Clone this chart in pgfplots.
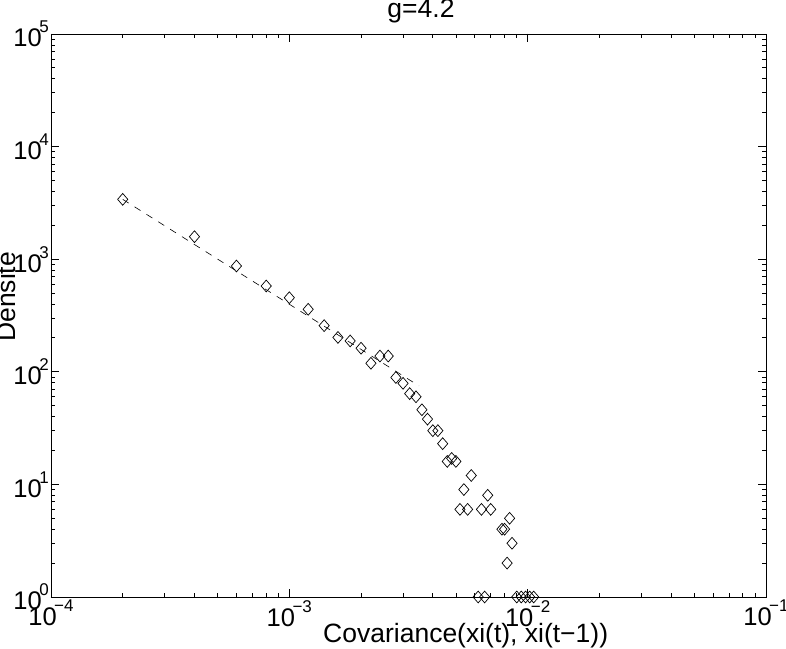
\documentclass[border=0pt]{standalone}
\usepackage{fontspec}
\setmainfont{Liberation Sans}
\usepackage{pgfplots}
\pgfplotsset{compat=1.18}
\newcommand{\tl}[1]{10\kern-2.5bp\raisebox{14bp}{\fontsize{17bp}{17bp}\selectfont #1}}
\begin{document}
\begin{tikzpicture}
\begin{axis}[
  scale only axis, width=715bp, height=563bp,
  xmode=log, ymode=log,
  xmin=1e-4, xmax=1e-1, ymin=1, ymax=1e5,
  clip=false,
  axis line style={line width=0.9bp},
  every tick/.style={black, line width=0.8bp},
  major tick length=8bp, minor tick length=4bp,
  tick align=inside,
  xtick={1e-4,1e-3,1e-2,1e-1},
  ytick={1,10,100,1000,10000,100000},
  xticklabels={\tl{−4},\tl{−3},\tl{−2},\tl{−1}},
  yticklabels={\tl{0},\tl{1},\tl{2},\tl{3},\tl{4},\tl{5}},
  tick label style={font=\fontsize{25.5bp}{28bp}\selectfont},
  xticklabel style={inner sep=0pt, yshift=-3bp},
  yticklabel style={inner sep=0pt, xshift=-2bp},
  label style={font=\fontsize{26.5bp}{30bp}\selectfont},
  title style={font=\fontsize{26.5bp}{30bp}\selectfont, at={(axis description cs:0.5175,1.0195)}, anchor=base, inner sep=0pt},
  title={g=4.2},
  xlabel style={at={(axis description cs:0.58,-0.08)}, anchor=base, inner sep=0pt},
  xlabel={Covariance(xi(t), xi(t−1))},
  ylabel style={at={(axis description cs:-0.0497,0.533)}, anchor=base, inner sep=0pt},
  ylabel={Densite},
]
\addplot[black, line width=0.6bp, dash pattern=on 7bp off 7bp] coordinates {(0.0002,3400) (0.0035,75)};
\addplot[only marks, mark=diamond, mark size=5.9bp, mark options={black, line width=0.7bp, xscale=1.15, fill=none}] coordinates {
(0.0002,3400) (0.0004,1585) (0.0006,870) (0.0008,578) (0.0010,455)
(0.0012,359) (0.0014,257) (0.0016,202) (0.0018,188) (0.0020,162)
(0.0022,119) (0.0024,138) (0.0026,138) (0.0028,89) (0.0030,79)
(0.0032,64) (0.0034,60) (0.0036,46) (0.0038,38) (0.0040,30)
(0.0042,30) (0.0044,23) (0.0046,16) (0.0048,17) (0.0050,16)
(0.0052,6) (0.0054,9) (0.0056,6) (0.0058,12) (0.0062,1)
(0.0064,6) (0.0066,1) (0.0068,8) (0.0070,6) (0.0078,4)
(0.0080,4) (0.0082,2) (0.0084,5) (0.0086,3) (0.0090,1)
(0.0094,1) (0.0098,1) (0.0102,1) (0.0106,1)
};
\end{axis}
\pgfresetboundingbox
\path ([shift={(-51bp,-52bp)}]current axis.south west) rectangle ([shift={(20bp,34bp)}]current axis.north east);
\end{tikzpicture}
\end{document}
